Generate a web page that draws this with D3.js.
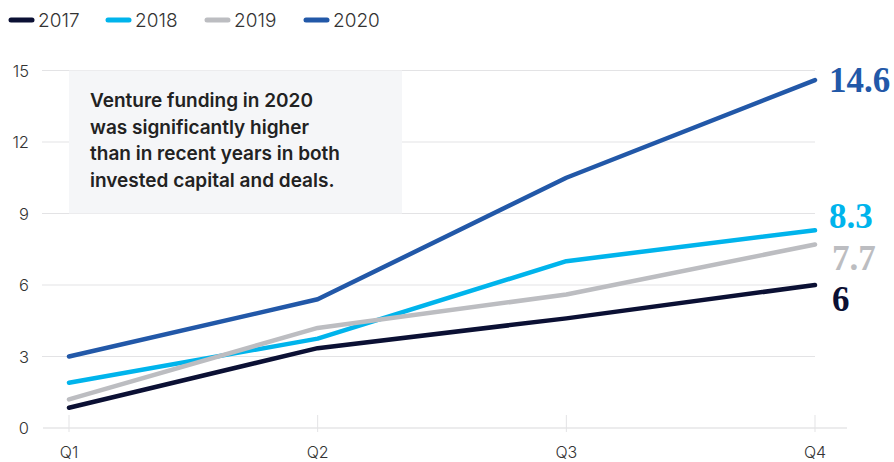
<!DOCTYPE html>
<html>
<head>
<meta charset="utf-8" />
<script src="https://d3js.org/d3.v7.min.js"></script>
<style>
  body { margin: 0; background: #fff; }
  svg { display: block; font-family: "Inter", "Roboto", sans-serif; }
</style>
</head>
<body>
<svg id="chart" width="894" height="462"></svg>
<script>
var quarters = ["Q1", "Q2", "Q3", "Q4"];
var years = ["2017", "2018", "2019", "2020"];
var values2017 = [0.85, 3.35, 4.6, 6.0];
var values2018 = [1.9, 3.75, 7.0, 8.3];
var values2019 = [1.2, 4.2, 5.6, 7.7];
var values2020 = [3.0, 5.4, 10.5, 14.6];
var endLabels = ["6", "8.3", "7.7", "14.6"];
var yTicks = [0, 3, 6, 9, 12, 15];
var colors = ["#0b1034", "#00b4ec", "#bcbdc1", "#2258a8"];
var note = ["Venture funding in 2020", "was significantly higher",
            "than in recent years in both", "invested capital and deals."];

var series = [values2017, values2018, values2019, values2020];

var svg = d3.select("#chart");

var x = d3.scalePoint().domain(quarters).range([69, 815]);
var y = d3.scaleLinear().domain([0, 15]).range([428, 70.5]);

// grid lines
svg.append("g")
  .selectAll("line")
  .data(yTicks.filter(function(d) { return d > 0; }))
  .enter().append("line")
  .attr("x1", 42).attr("x2", 815)
  .attr("y1", function(d) { return y(d); })
  .attr("y2", function(d) { return y(d); })
  .attr("stroke", "#e3e3e5").attr("stroke-width", 1.2);

// annotation box
svg.append("rect")
  .attr("x", 69).attr("y", y(15)).attr("width", 333).attr("height", y(9) - y(15))
  .attr("fill", "#f5f6f8");

svg.append("g")
  .selectAll("text")
  .data(note)
  .enter().append("text")
  .attr("x", 90)
  .attr("y", function(d, i) { return 107 + i * 26.7; })
  .attr("font-size", 19)
  .attr("font-weight", 600)
  .attr("fill", "#222")
  .text(function(d) { return d; });

// y axis labels
svg.append("g")
  .selectAll("text")
  .data(yTicks)
  .enter().append("text")
  .attr("x", 29)
  .attr("y", function(d) { return y(d) + 6; })
  .attr("text-anchor", "end")
  .attr("font-size", 16.5)
  .attr("font-weight", 300)
  .attr("fill", "#333")
  .text(function(d) { return d; });

// x axis
var xAxis = svg.append("g").attr("transform", "translate(0," + y(0) + ")");
xAxis.append("line")
  .attr("x1", 43).attr("x2", 847)
  .attr("stroke", "#d9d9dc").attr("stroke-width", 1.2);
xAxis.selectAll(".tick")
  .data(quarters)
  .enter().append("line")
  .attr("x1", function(d) { return x(d); })
  .attr("x2", function(d) { return x(d); })
  .attr("y1", -13).attr("y2", 4)
  .attr("stroke", "#e3e3e5").attr("stroke-width", 1);
xAxis.selectAll("text")
  .data(quarters)
  .enter().append("text")
  .attr("x", function(d) { return x(d); })
  .attr("y", 30)
  .attr("text-anchor", "middle")
  .attr("font-size", 16)
  .attr("font-weight", 300)
  .attr("fill", "#333")
  .text(function(d) { return d; });

// lines
var line = d3.line()
  .x(function(d, i) { return x(quarters[i]); })
  .y(function(d) { return y(d); });

svg.append("g")
  .selectAll("path")
  .data(series)
  .enter().append("path")
  .attr("d", line)
  .attr("fill", "none")
  .attr("stroke", function(d, i) { return colors[i]; })
  .attr("stroke-width", 4.5)
  .attr("stroke-linecap", "round")
  .attr("stroke-linejoin", "round");

// end labels
var labelOffsets = [26, -2, 26, 12];
svg.append("g")
  .selectAll("text")
  .data(series)
  .enter().append("text")
  .attr("x", function(d, i) { return i === 0 || i === 2 ? 832 : 829; })
  .attr("y", function(d, i) { return y(d[3]) + labelOffsets[i]; })
  .attr("font-family", "'Liberation Serif', 'DejaVu Serif', serif")
  .attr("font-size", 35)
  .attr("font-weight", 700)
  .attr("fill", function(d, i) { return colors[i]; })
  .text(function(d, i) { return endLabels[i]; });

// legend
var legend = svg.append("g")
  .selectAll("g")
  .data(years)
  .enter().append("g")
  .attr("transform", function(d, i) { return "translate(" + [11, 108, 207, 306][i] + ",20)"; });
legend.append("line")
  .attr("x1", 0).attr("x2", 21)
  .attr("stroke", function(d, i) { return colors[i]; })
  .attr("stroke-width", 5)
  .attr("stroke-linecap", "round");
legend.append("text")
  .attr("x", 27).attr("y", 7)
  .attr("font-size", 19)
  .attr("font-weight", 300)
  .attr("fill", "#333")
  .text(function(d) { return d; });
</script>
</body>
</html>
